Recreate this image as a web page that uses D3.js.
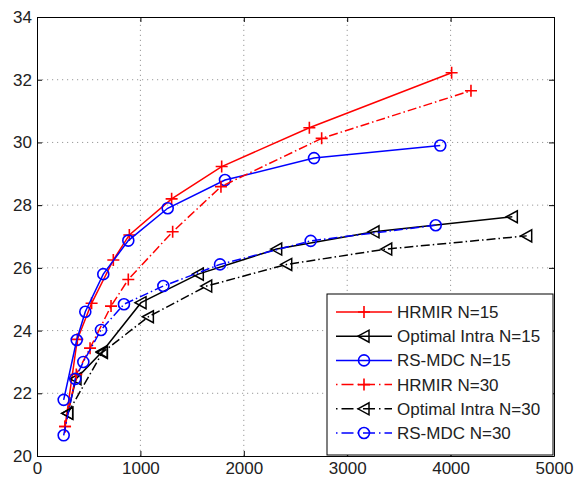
<!DOCTYPE html>
<html>
<head>
<meta charset="utf-8">
<script src="https://cdn.jsdelivr.net/npm/d3@7"></script>
<style>
  body { margin: 0; background: #fff; }
  svg { font-family: "Liberation Sans", Arial, sans-serif; }
</style>
</head>
<body>
<svg id="chart"></svg>
<script>
// data
const xTicks = [0, 1000, 2000, 3000, 4000, 5000]
const yTicks = [20, 22, 24, 26, 28, 30, 32, 34]

const hrmir15X = [271, 390, 528, 738, 893, 1302, 1786, 2634, 4010]
const hrmir15Y = [20.94, 23.72, 24.87, 26.25, 27.05, 28.2, 29.23, 30.47, 32.22]
const intra15X = [297, 377, 632, 1006, 1560, 2318, 3259, 4597]
const intra15Y = [21.36, 22.46, 23.33, 24.89, 25.8, 26.6, 27.15, 27.63]
const rsmdc15X = [258, 384, 467, 641, 883, 1264, 1818, 2679, 3900]
const rsmdc15Y = [21.79, 23.7, 24.6, 25.8, 26.87, 27.9, 28.8, 29.5, 29.9]
const hrmir30X = [271, 380, 513, 716, 883, 1312, 1779, 2753, 4197]
const hrmir30Y = [20.94, 22.6, 23.44, 24.78, 25.63, 27.15, 28.59, 30.13, 31.65]
const intra30X = [297, 632, 1077, 1641, 2415, 3382, 4736]
const intra30Y = [21.36, 23.3, 24.44, 25.42, 26.11, 26.6, 27.02]
const rsmdc30X = [258, 370, 448, 619, 841, 1222, 1770, 2647, 3856]
const rsmdc30Y = [20.66, 22.46, 23.0, 24.02, 24.84, 25.42, 26.11, 26.86, 27.36]

const seriesNames = ["HRMIR N=15", "Optimal Intra N=15", "RS-MDC N=15",
                     "HRMIR N=30", "Optimal Intra N=30", "RS-MDC N=30"]

const series = [
  {name: seriesNames[0], xs: hrmir15X, ys: hrmir15Y, color: "#ff0000", marker: "plus", dash: null},
  {name: seriesNames[1], xs: intra15X, ys: intra15Y, color: "#000000", marker: "tri", dash: null},
  {name: seriesNames[2], xs: rsmdc15X, ys: rsmdc15Y, color: "#0000ff", marker: "circle", dash: null},
  {name: seriesNames[3], xs: hrmir30X, ys: hrmir30Y, color: "#ff0000", marker: "plus", dash: "9,3,1.5,3"},
  {name: seriesNames[4], xs: intra30X, ys: intra30Y, color: "#000000", marker: "tri", dash: "9,3,1.5,3"},
  {name: seriesNames[5], xs: rsmdc30X, ys: rsmdc30Y, color: "#0000ff", marker: "circle", dash: "9,3,1.5,3"}
]

const width = 576, height = 478
const margin = {top: 17, right: 22, bottom: 22, left: 37}

const svg = d3.select("#chart")
  .attr("width", width)
  .attr("height", height)

const x = d3.scaleLinear().domain([0, 5000]).range([margin.left, width - margin.right])
const y = d3.scaleLinear().domain([20, 34]).range([height - margin.bottom, margin.top])

// dotted grid
const grid = svg.append("g")
  .attr("stroke", "#9a9a9a")
  .attr("stroke-width", 1)
  .attr("stroke-dasharray", "1.2,3.8")

grid.selectAll(".gx")
  .data(xTicks.slice(1, -1))
  .join("line")
    .attr("x1", d => x(d)).attr("x2", d => x(d))
    .attr("y1", y(20)).attr("y2", y(34))

grid.selectAll(".gy")
  .data(yTicks.slice(1, -1))
  .join("line")
    .attr("x1", x(0)).attr("x2", x(5000))
    .attr("y1", d => y(d)).attr("y2", d => y(d))

// axes, ticks pointing inwards like matlab
const fontSize = 17
const fmt = d3.format("d")
const axisBottom = svg.append("g")
  .attr("transform", `translate(0,${y(20)})`)
  .call(d3.axisBottom(x).tickValues(xTicks).tickFormat(fmt).tickSize(-5).tickPadding(6).tickSizeOuter(0))
const axisTop = svg.append("g")
  .attr("transform", `translate(0,${y(34)})`)
  .call(d3.axisTop(x).tickValues(xTicks).tickSize(-5).tickFormat("").tickSizeOuter(0))
const axisLeft = svg.append("g")
  .attr("transform", `translate(${x(0)},0)`)
  .call(d3.axisLeft(y).tickValues(yTicks).tickFormat(fmt).tickSize(-5).tickPadding(5).tickSizeOuter(0))
const axisRight = svg.append("g")
  .attr("transform", `translate(${x(5000)},0)`)
  .call(d3.axisRight(y).tickValues(yTicks).tickSize(-5).tickFormat("").tickSizeOuter(0))

for (const a of [axisBottom, axisTop, axisLeft, axisRight]) {
  a.select(".domain").attr("stroke", "#000")
  a.selectAll(".tick line").attr("stroke", "#000")
  a.selectAll("text")
    .attr("fill", "#222")
    .style("font-size", fontSize + "px")
    .style("font-family", "'Liberation Sans', Arial, sans-serif")
}

// markers
function drawMarker(g, type, color) {
  if (type === "plus") {
    g.append("path").attr("d", "M-6,0H6M0,-6V6")
      .attr("stroke", color).attr("stroke-width", 1.6).attr("fill", "none")
  } else if (type === "tri") {
    g.append("path").attr("d", "M-6,0L5,-6L5,6Z")
      .attr("stroke", color).attr("stroke-width", 1.5).attr("fill", "none")
  } else {
    g.append("circle").attr("r", 5.5)
      .attr("stroke", color).attr("stroke-width", 1.6).attr("fill", "none")
  }
}

const line = d3.line()
  .x(d => x(d[0]))
  .y(d => y(d[1]))

const plot = svg.append("g")

series.forEach(s => {
  const pts = s.xs.map((v, i) => [v, s.ys[i]])
  plot.append("path")
    .datum(pts)
    .attr("d", line)
    .attr("fill", "none")
    .attr("stroke", s.color)
    .attr("stroke-width", 1.5)
    .attr("stroke-dasharray", s.dash)

  plot.selectAll(null)
    .data(pts)
    .join("g")
      .attr("transform", d => `translate(${x(d[0])},${y(d[1])})`)
      .each(function () { drawMarker(d3.select(this), s.marker, s.color) })
})

// legend box in the lower right corner
const legend = svg.append("g").attr("transform", "translate(327,294)")
legend.append("rect")
  .attr("width", 226).attr("height", 161)
  .attr("fill", "#fff").attr("stroke", "#000").attr("stroke-width", 1)

series.forEach((s, i) => {
  const row = legend.append("g").attr("transform", `translate(0,${18 + i * 24.2})`)
  row.append("line")
    .attr("x1", 9).attr("x2", 65)
    .attr("stroke", s.color).attr("stroke-width", 1.5)
    .attr("stroke-dasharray", s.dash ? "1.5,4,12,4" : null)
  const m = row.append("g").attr("transform", "translate(37,0)")
  drawMarker(m, s.marker, s.color)
  row.append("text")
    .attr("x", 70).attr("y", 6)
    .attr("fill", "#222")
    .style("font-size", fontSize + "px")
    .text(s.name)
})
</script>
</body>
</html>
